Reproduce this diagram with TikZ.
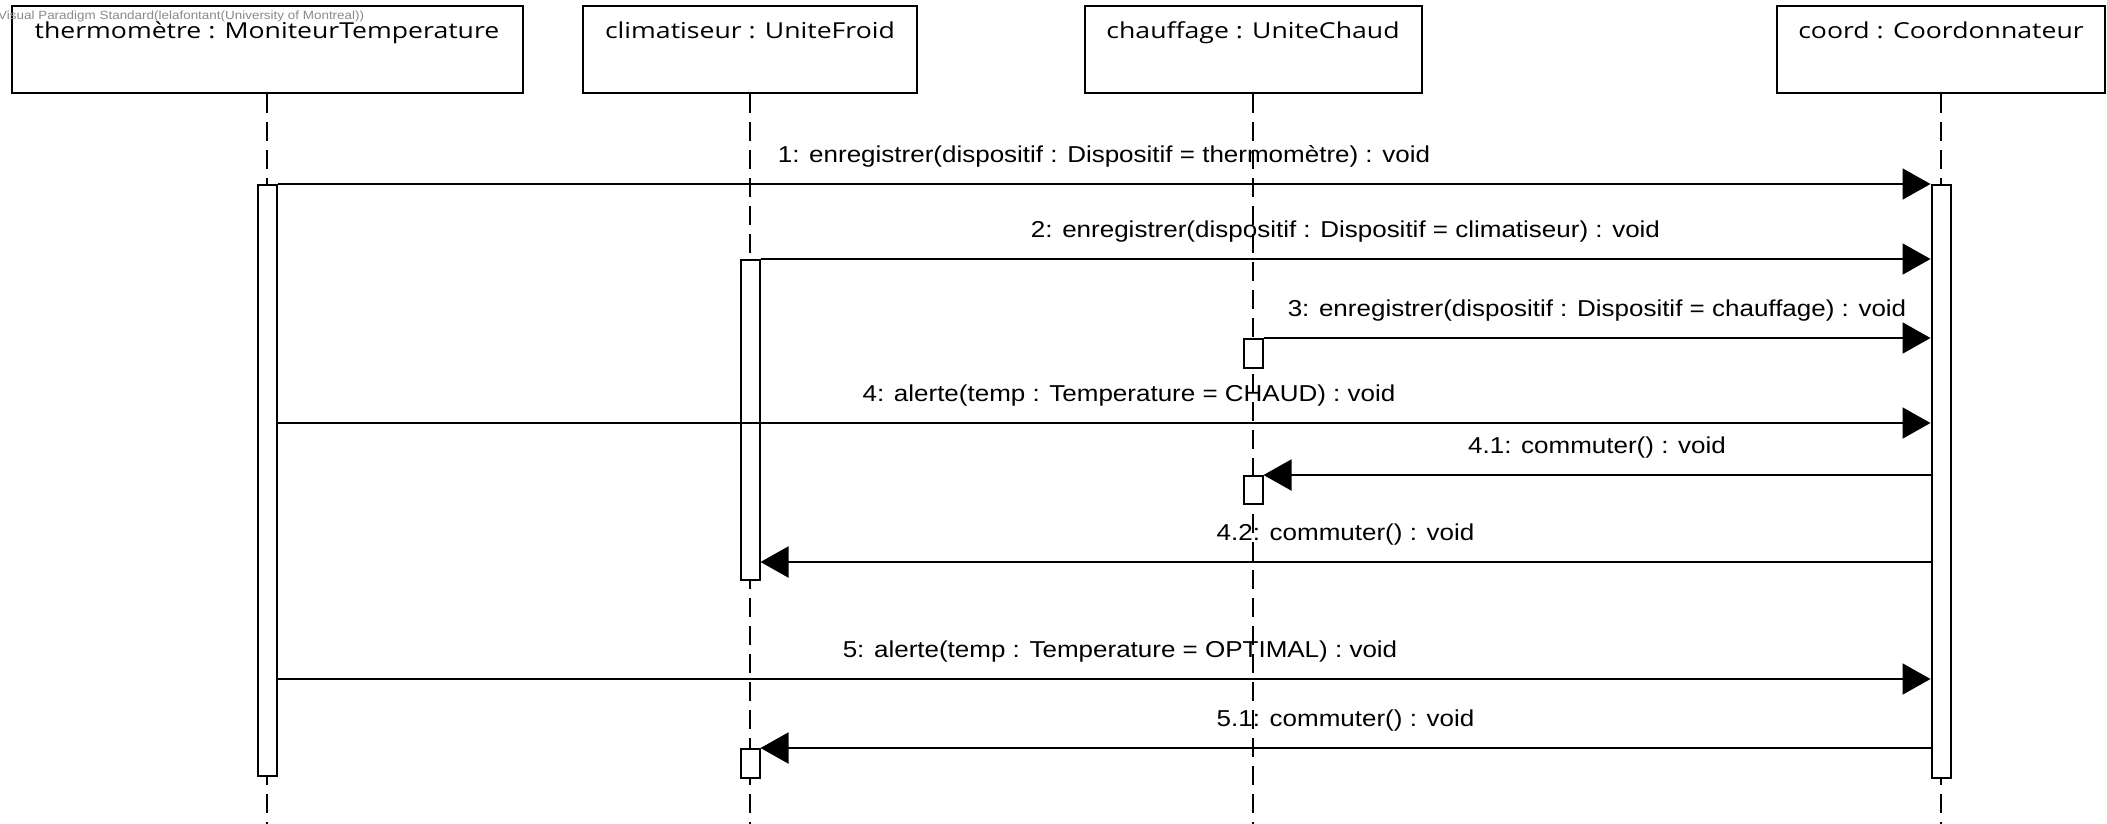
\documentclass[tikz,border=0pt]{standalone}
\usepackage{xcolor}
\usepackage{fontspec}
\setmainfont{Liberation Sans}[FakeStretch=1.13]
\newfontfamily\headfont{Open Sans}[FakeStretch=1.21]
\usetikzlibrary{arrows.meta}
\definecolor{vpgray}{HTML}{8A8A8A}

\tikzset{
  lifebox/.style={draw, line width=2pt, anchor=north, inner xsep=0pt, inner ysep=0pt,
    text height=32pt, text depth=55pt, font=\headfont\fontsize{22}{26}\selectfont},
  lifeline/.style={line width=2pt, dash pattern=on 19pt off 9pt},
  actbar/.style={draw, fill=white, line width=2pt, anchor=north, minimum width=19pt, inner sep=0pt},
  msg/.style={line width=2pt, -{Triangle[length=28pt, width=31pt]}},
  lbl/.style={anchor=base, yshift=22pt, inner sep=0pt, font=\fontsize{23}{27}\selectfont},
}

\begin{document}
\begin{tikzpicture}[x=1pt, y=-1pt]
  \useasboundingbox (0,0) rectangle (2107,823);
  \clip (0,0) rectangle (2107,823);

  \node[lifebox, minimum width=511pt] (thermo) at (267,5) {thermomètre : MoniteurTemperature};
  \node[lifebox, minimum width=334pt] (clim) at (750,5) {climatiseur : UniteFroid};
  \node[lifebox, minimum width=337pt] (chauf) at (1253,5) {chauffage : UniteChaud};
  \node[lifebox, minimum width=328pt] (coord) at (1941,5) {coord : Coordonnateur};

  \foreach \obj in {thermo, clim, chauf, coord}
    \draw[lifeline] (\obj.south) -- ++(0,740);

  \node[actbar, minimum height=591pt] (actThermo) at (267,184) {};
  \node[actbar, minimum height=593pt] (actCoord) at (1941,184) {};
  \node[actbar, minimum height=320pt] (actClim) at (750,259) {};
  \node[actbar, minimum height=29pt] (actChauf1) at (1253,338) {};
  \node[actbar, minimum height=28pt] (actChauf2) at (1253,475) {};
  \node[actbar, minimum height=29pt] (actClim2) at (750,748) {};

  \coordinate (m4) at (0,423);
  \coordinate (m42) at (0,562);
  \coordinate (m5) at (0,679);

  \draw[msg] (actThermo.north east) -- (actCoord.north west)
    node[lbl, midway] {1: enregistrer(dispositif : Dispositif = thermomètre) : void};
  \draw[msg] (actClim.north east) -- (actCoord.west |- actClim.north)
    node[lbl, midway] {2: enregistrer(dispositif : Dispositif = climatiseur) : void};
  \draw[msg] (actChauf1.north east) -- (actCoord.west |- actChauf1.north)
    node[lbl, midway] {3: enregistrer(dispositif : Dispositif = chauffage) : void};
  \draw[msg] (actThermo.east |- m4) -- (actCoord.west |- m4)
    node[lbl, midway, xshift=25pt] {4: alerte(temp : Temperature = CHAUD) : void};
  \draw[msg] (actCoord.west |- actChauf2.north) -- (actChauf2.north east)
    node[lbl, midway] {4.1: commuter() : void};
  \draw[msg] (actCoord.west |- m42) -- (actClim.east |- m42)
    node[lbl, midway] {4.2: commuter() : void};
  \draw[msg] (actThermo.east |- m5) -- (actCoord.west |- m5)
    node[lbl, midway, xshift=16pt] {5: alerte(temp : Temperature = OPTIMAL) : void};
  \draw[msg] (actCoord.west |- actClim2.north) -- (actClim2.north east)
    node[lbl, midway] {5.1: commuter() : void};

  \node[anchor=base west, inner sep=0pt, text=vpgray, font=\fontsize{11.9}{13}\selectfont]
    (vpmark) at (-2,19) {Visual Paradigm Standard(lelafontant(University of Montreal))};
\end{tikzpicture}
\end{document}
